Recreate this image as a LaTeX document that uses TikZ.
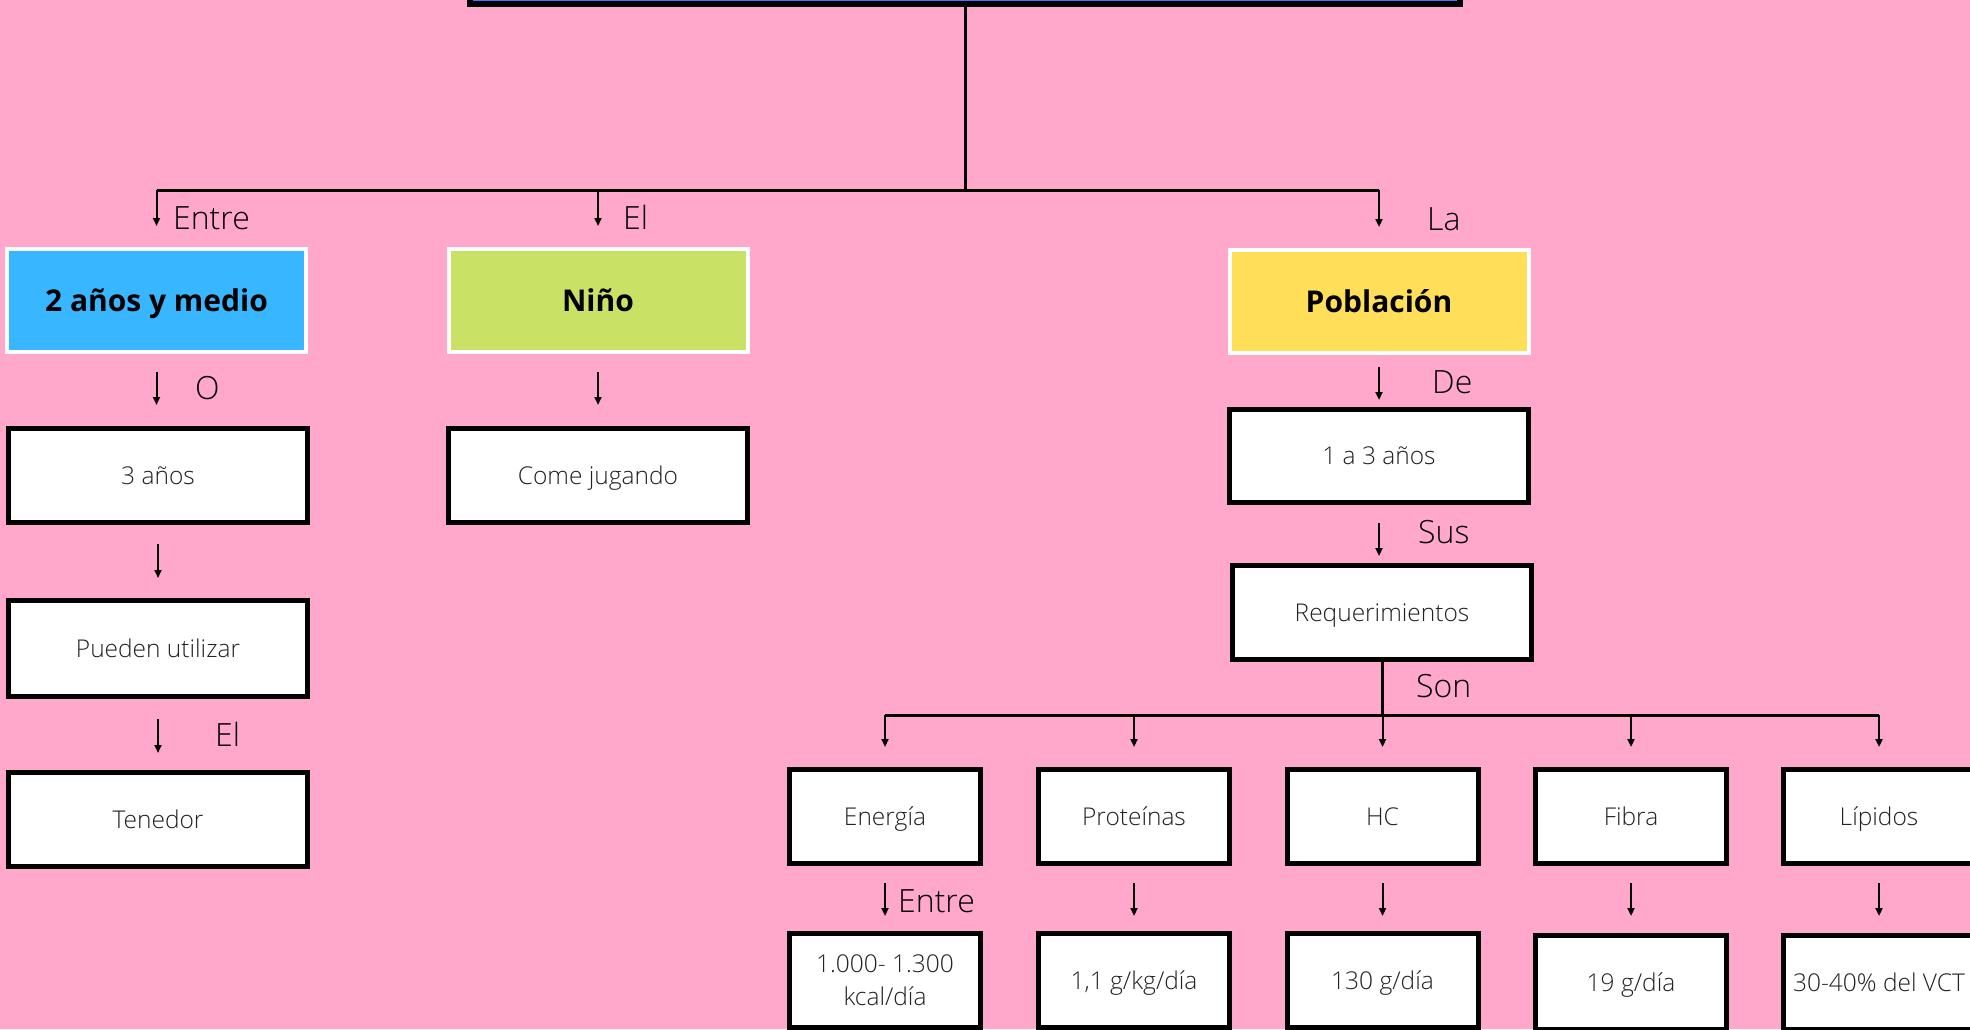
\documentclass[tikz,border=0pt]{standalone}
\usepackage{fontspec}
\setmainfont{Open Sans Light}[BoldFont={Open Sans Bold}]
\usetikzlibrary{arrows.meta,calc}
\definecolor{bgpink}{HTML}{FFA8CC}
\definecolor{skyblue}{HTML}{38B6FF}
\definecolor{limegreen}{HTML}{C9E265}
\definecolor{sunyellow}{HTML}{FFDE59}
\definecolor{titleblue}{HTML}{5271FF}
\definecolor{textgray}{HTML}{222222}
\begin{document}
\begin{tikzpicture}[x=1pt,y=-1pt,
  box/.style={draw=black,line width=5pt,fill=white,minimum width=299pt,minimum height=94pt,inner sep=0pt,align=center,text height=17pt,text depth=0pt,font=\fontsize{24.5}{33}\selectfont,text=textgray},
  smallbox/.style={box,minimum width=191pt},
  colbox/.style={draw=white,line width=4pt,minimum width=299pt,minimum height=103pt,inner sep=0pt,text height=21.5pt,text depth=0pt,font=\fontsize{30}{34}\selectfont\bfseries},
  lbl/.style={anchor=base west,inner sep=0pt,font=\fontsize{32}{36}\selectfont},
  arr/.style={line width=2pt,-{Triangle[length=8pt,width=7pt]}},
  bus/.style={line width=3pt}]
\useasboundingbox (0,0) rectangle (1970,1029);
\clip (0,0) rectangle (1970,1029);
\fill[bgpink] (0,0) rectangle (1970,1029);

% title box (only its bottom is visible)
\node[draw=black,line width=6pt,fill=titleblue,minimum width=990pt,minimum height=100pt,inner sep=0pt] (title) at (965,-46) {};

% coloured boxes
\node[colbox,fill=skyblue] (edad) at (156.5,300.5) {2 años y medio};
\node[colbox,fill=limegreen] (nino) at (598,300.5) {Niño};
\node[colbox,fill=sunyellow] (pob) at (1379,301.5) {Población};

% white boxes
\node[box] (tres) at (158,475.5) {3 años};
\node[box] (come) at (598,475.5) {Come jugando};
\node[box,minimum height=96pt] (pueden) at (158,648.5) {Pueden utilizar};
\node[box] (tenedor) at (158,819.5) {Tenedor};
\node[box,minimum height=93pt] (unotres) at (1379,456) {1 a 3 años};
\node[box] (req) at (1382,612.5) {Requerimientos};

\node[smallbox] (energia) at (885,816.5) {Energía};
\node[smallbox] (prot) at (1134,816.5) {Proteínas};
\node[smallbox] (hc) at (1382.5,816.5) {HC};
\node[smallbox] (fibra) at (1631,816.5) {Fibra};
\node[smallbox] (lip) at (1879,816.5) {Lípidos};

\node[smallbox,text height=50pt] (kcal) at (885,980.5) {1.000- 1.300\\kcal/día};
\node[smallbox] (protv) at (1134,980.5) {1,1 g/kg/día};
\node[smallbox] (hcv) at (1382.5,980.5) {130 g/día};
\node[smallbox] (fibrav) at (1631,982.5) {19 g/día};
\node[smallbox] (lipv) at (1879,982.5) {30-40\% del VCT};

% labels
\node[lbl] (lEntreA) at (173,229) {Entre};
\node[lbl] (lElA) at (623,229) {El};
\node[lbl] (lLa) at (1427,230) {La};
\node[lbl] (lO) at (195,399) {O};
\node[lbl] (lElB) at (215,746) {El};
\node[lbl] (lDe) at (1432,393) {De};
\node[lbl] (lSus) at (1418,543) {Sus};
\node[lbl] (lSon) at (1416,697) {Son};
\node[lbl] (lEntreB) at (898,912) {Entre};

% top bus
\coordinate (topbus) at (965,190);
\draw[bus] (title.south) -- (topbus);
\draw[bus] (edad.north |- topbus) -- (pob.north |- topbus);
\draw[arr,shorten >=21pt] (edad.north |- topbus) -- (edad.north);
\draw[arr,shorten >=21pt] (nino.north |- topbus) -- (nino.north);
\draw[arr,shorten >=21pt] (pob.north |- topbus) -- (pob.north);

% left column
\draw[arr,shorten <=18pt,shorten >=21pt] (edad.south) -- (edad.south |- tres.north);
\draw[arr,shorten <=18pt,shorten >=21pt] (nino.south) -- (come.north);
\draw[arr,shorten <=19pt,shorten >=20pt] (tres.south) -- (pueden.north);
\draw[arr,shorten <=20pt,shorten >=17pt] (pueden.south) -- (tenedor.north);

% right column
\draw[arr,shorten <=12pt,shorten >=7pt] (pob.south) -- (unotres.north);
\draw[arr,shorten <=18pt,shorten >=7pt] (unotres.south) -- (unotres.south |- req.north);

% requirements bus
\coordinate (sonbus) at (1382,715);
\draw[bus] (req.south) -- (sonbus);
\draw[bus] (energia.north |- sonbus) -- (lip.north |- sonbus);
\foreach \n in {energia,prot,hc,fibra,lip}
  \draw[arr,shorten >=20pt] (\n.north |- sonbus) -- (\n.north);

% values
\draw[arr,shorten <=17pt,shorten >=15pt] (energia.south) -- (kcal.north);
\draw[arr,shorten <=17pt,shorten >=15pt] (prot.south) -- (protv.north);
\draw[arr,shorten <=17pt,shorten >=15pt] (hc.south) -- (hcv.north);
\draw[arr,shorten <=17pt,shorten >=17pt] (fibra.south) -- (fibrav.north);
\draw[arr,shorten <=17pt,shorten >=17pt] (lip.south) -- (lipv.north);
\end{tikzpicture}
\end{document}
